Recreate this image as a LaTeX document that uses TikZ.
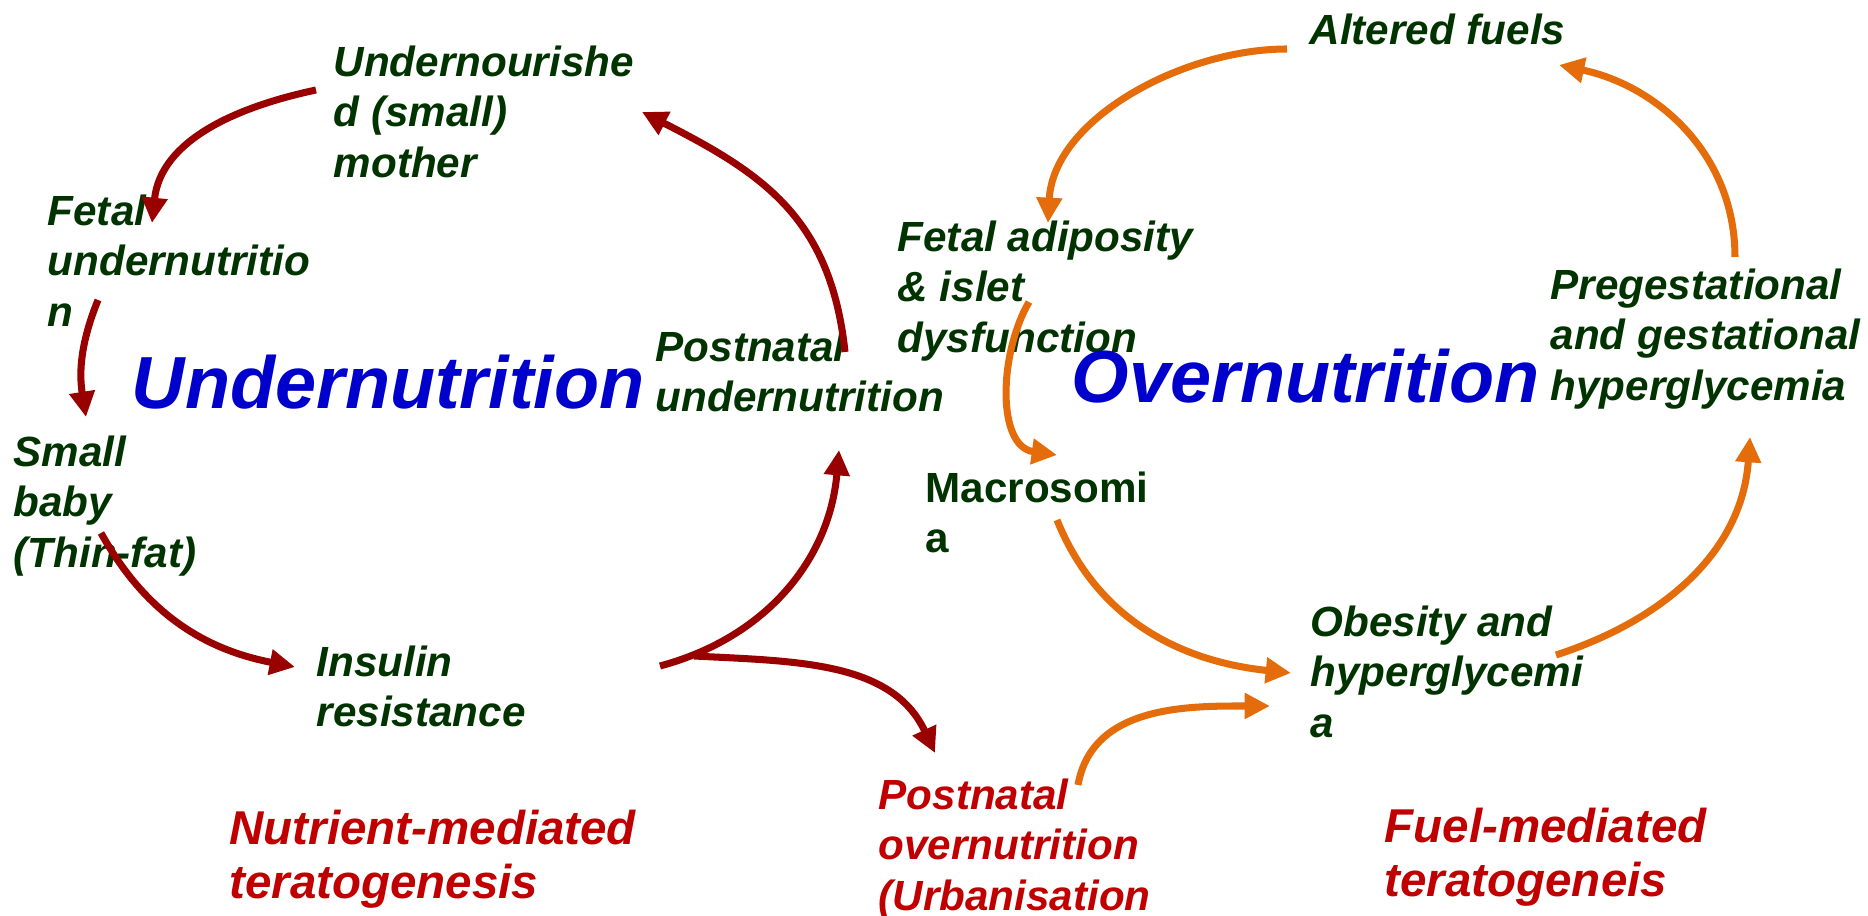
\documentclass[tikz,border=0pt]{standalone}
\usepackage{fontspec}
\setmainfont{Liberation Sans}
\usetikzlibrary{arrows.meta}

\definecolor{leafgreen}{RGB}{0,51,0}
\definecolor{titleblue}{RGB}{0,0,204}
\definecolor{noteRed}{RGB}{192,0,0}
\definecolor{darkred}{RGB}{153,0,0}
\definecolor{fuelorange}{RGB}{228,108,10}

\tikzstyle{stage} = [anchor=north west, 
inner sep=0pt, 
align=left, 
text=leafgreen, 
font=\fontsize{12pt}{14.4pt}\selectfont\bfseries\itshape]
\tikzstyle{plainstage} = [stage, 
font=\fontsize{12pt}{14.4pt}\selectfont\bfseries]
\tikzstyle{note} = [stage, text=noteRed]
\tikzstyle{bignote} = [note, 
font=\fontsize{13.5pt}{15.6pt}\selectfont\bfseries\itshape]
\tikzstyle{headline} = [anchor=north west, 
inner sep=0pt, 
text=titleblue, 
font=\fontsize{21pt}{25pt}\selectfont\bfseries\itshape]
\tikzstyle{redarrow} = [line width=2pt, draw=darkred, -{Triangle[length=7.2pt, width=7pt]}]
\tikzstyle{orangearrow} = [line width=2pt, draw=fuelorange, -{Triangle[length=7.2pt, width=7pt]}]

\begin{document}
\begin{tikzpicture}[x=0.01cm, y=0.01cm]
    \useasboundingbox (0,0) rectangle (1868,-916);

    % undernutrition cycle
    \node (mother) [stage] at (333,-45) {Undernourishe\\d (small)\\mother};
    \node (fetal) [stage] at (47,-194) {Fetal\\undernutritio\\n};
    \node (baby) [stage] at (13,-435) {Small\\baby\\(Thin-fat)};
    \node (insulin) [stage] at (316,-645) {Insulin\\resistance};
    \node (postunder) [stage] at (655,-330) {Postnatal\\undernutrition};
    \node (undernut) [headline] at (131,-354) {Undernutrition};
    \node (nutrient) [bignote] at (229,-809) {Nutrient-mediated\\teratogenesis};

    % overnutrition cycle
    \node (altered) [stage] at (1309,-13) {Altered fuels};
    \node (adiposity) [stage] at (897,-220) {Fetal adiposity\\\& islet\\dysfunction};
    \node (overnut) [headline] at (1071,-348) {Overnutrition};
    \node (pregest) [stage] at (1550,-268) {Pregestational\\and gestational\\hyperglycemia};
    \node (macro) [plainstage] at (925,-471) {Macrosomi\\a};
    \node (obesity) [stage] at (1310,-605) {Obesity and\\hyperglycemi\\a};
    \node (postover) [note] at (878,-778) {Postnatal\\overnutrition\\(Urbanisation};
    \node (fuel) [bignote] at (1384,-807) {Fuel-mediated\\teratogeneis};

    \draw [redarrow] ([shift={(-17,-45)}]mother.north west) to[out=192, in=84] ([shift={(105,-29)}]fetal.north west);
    \draw [redarrow] ([shift={(51,-106)}]fetal.north west) to[out=248, in=99] ([shift={(73,18)}]baby.north west);
    \draw [redarrow] ([shift={(88,-98)}]baby.north west) to[out=299, in=169] ([shift={(-21,-22)}]insulin.north west);
    \draw [redarrow] ([shift={(344,-21)}]insulin.north west) to[out=15, in=265] ([shift={(184,-120)}]postunder.north west);
    \draw [redarrow] ([shift={(190,-22)}]postunder.north west) to[out=96, in=333, looseness=1.1] ([shift={(309,-67)}]mother.north west);
    \draw [redarrow] ([shift={(378,-11)}]insulin.north west) to[out=357, in=115] ([shift={(57,25)}]postover.north west);

    \draw [orangearrow] ([shift={(-22,-36)}]altered.north west) to[out=180, in=87, looseness=0.9] ([shift={(151,-3)}]adiposity.north west);
    \draw [orangearrow] ([shift={(132,-82)}]adiposity.north west) to[out=240, in=172] ([shift={(132,16)}]macro.north west);
    \draw [orangearrow] ([shift={(132,-49)}]macro.north west) to[out=292, in=174] ([shift={(-19,-68)}]obesity.north west);
    \draw [orangearrow] ([shift={(246,-50)}]obesity.north west) to[out=18, in=266] ([shift={(200,-169)}]pregest.north west);
    \draw [orangearrow] ([shift={(185,11)}]pregest.north west) to[out=90, in=-12] ([shift={(250,-52)}]altered.north west);
    \draw [orangearrow] ([shift={(200,-7)}]postover.north west) to[out=80, in=180] ([shift={(-40,-101)}]obesity.north west);
\end{tikzpicture}
\end{document}
